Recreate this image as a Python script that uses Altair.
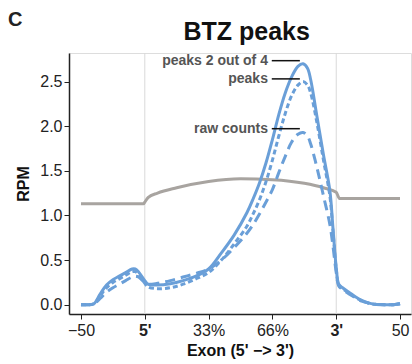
import json
import altair as alt
import pandas as pd

# ---------------- data ----------------
x_blue = [0, 0.1, 0.2, 0.3, 0.4, 0.5, 0.6, 0.7, 0.8, 0.85, 0.9, 1.0, 1.05, 1.2, 1.4, 1.6, 1.8,
          2.0, 2.2, 2.4, 2.6, 2.7, 2.8, 2.9, 3.0, 3.1, 3.2, 3.3, 3.4, 3.48, 3.55, 3.6, 3.7,
          3.8, 3.9, 3.95, 4.0, 4.04, 4.1, 4.2, 4.3, 4.4, 4.5, 4.6, 4.8, 4.9, 5.0]
peaks_2_of_4 = [0.0, 0.0, 0.01, 0.12, 0.22, 0.28, 0.32, 0.36, 0.40, 0.40, 0.37, 0.27, 0.23, 0.22,
                0.235, 0.27, 0.32, 0.40, 0.58, 0.78, 1.03, 1.19, 1.37, 1.59, 1.85, 2.13, 2.37,
                2.55, 2.67, 2.70, 2.65, 2.52, 2.10, 1.68, 1.28, 0.85, 0.42, 0.23, 0.19, 0.14,
                0.09, 0.05, 0.02, 0.005, 0.0, 0.0, 0.01]
peaks = [0.0, 0.0, 0.01, 0.10, 0.19, 0.25, 0.29, 0.33, 0.37, 0.37, 0.34, 0.24, 0.20, 0.18,
         0.19, 0.23, 0.29, 0.36, 0.50, 0.68, 0.88, 1.02, 1.18, 1.38, 1.62, 1.89, 2.14,
         2.34, 2.46, 2.50, 2.46, 2.37, 2.03, 1.62, 1.22, 0.82, 0.40, 0.22, 0.18, 0.13,
         0.08, 0.045, 0.02, 0.005, 0.0, 0.0, 0.01]
raw_counts = [0.0, 0.0, 0.01, 0.07, 0.14, 0.19, 0.23, 0.27, 0.31, 0.32, 0.31, 0.25, 0.23, 0.24,
              0.27, 0.31, 0.35, 0.40, 0.50, 0.64, 0.80, 0.90, 1.02, 1.15, 1.29, 1.48, 1.66,
              1.82, 1.91, 1.93, 1.89, 1.80, 1.53, 1.22, 0.90, 0.65, 0.36, 0.21, 0.17, 0.12,
              0.08, 0.04, 0.02, 0.005, 0.0, 0.0, 0.01]

x_gray = [0, 0.5, 0.98, 1.0, 1.05, 1.2, 1.5, 2.0, 2.5, 3.0, 3.5, 3.8, 4.0, 4.05, 4.5, 5.0]
gray_vals = [1.13, 1.13, 1.13, 1.15, 1.20, 1.25, 1.31, 1.38, 1.41, 1.40, 1.36, 1.31, 1.26,
             1.19, 1.19, 1.19]

tick_values = [0, 1, 2, 3, 4, 5]
tick_labels = ["\u221250", "5'", "33%", "66%", "3'", "50"]
bold_ticks = [1, 4]
grid_x = [1, 4]

label_names = ["peaks 2 out of 4", "peaks", "raw counts"]
label_y = [2.734, 2.53, 1.972]
label_text_x = [2.93, 2.93, 2.93]
label_line_x1 = [2.99, 2.99, 2.99]
label_line_x2 = [3.43, 3.43, 3.43]

panel_letter = ["C"]
chart_title = ["BTZ peaks"]

BLUE = "#6a9fd8"
GRAY = "#a8a4a0"
FONT = "Liberation Sans"

# ---------------- frames ----------------
df_solid = pd.DataFrame({"x": x_blue, "y": peaks_2_of_4})
df_dot = pd.DataFrame({"x": x_blue, "y": peaks})
df_dash = pd.DataFrame({"x": x_blue, "y": raw_counts})
df_gray = pd.DataFrame({"x": x_gray, "y": gray_vals})
df_grid = pd.DataFrame({"x": grid_x})
df_lab = pd.DataFrame({"name": label_names, "y": label_y, "tx": label_text_x,
                       "x1": label_line_x1, "x2": label_line_x2})
df_c = pd.DataFrame({"t": panel_letter})
df_t = pd.DataFrame({"t": chart_title})

xscale = alt.Scale(domain=[-0.188, 5.172], nice=False, zero=False)
yscale = alt.Scale(domain=[-0.104, 2.82], nice=False, zero=False)

label_expr = json.dumps(tick_labels) + "[datum.value]"
bold_expr = " || ".join(f"datum.value == {b}" for b in bold_ticks)

xaxis = alt.Axis(
    values=tick_values, labelExpr=label_expr, title="Exon (5' \u2212> 3')",
    grid=False, labelFontSize=16, titleFontSize=16, titleFontWeight="bold",
    labelFont=FONT, titleFont=FONT, labelColor="#222", titleColor="#111",
    labelFontWeight={"expr": f"({bold_expr}) ? 'bold' : 'normal'"},
    domainColor="#222", domainWidth=1.5, tickColor="#222", tickSize=5,
    labelPadding=3, titlePadding=4,
)
yaxis = alt.Axis(
    values=[0, 0.5, 1.0, 1.5, 2.0, 2.5], format=".1f", title="RPM", grid=False,
    labelFontSize=16, titleFontSize=16, titleFontWeight="bold",
    labelFont=FONT, titleFont=FONT, labelColor="#222", titleColor="#111",
    domainColor="#222", domainWidth=1.5, tickColor="#222", tickSize=5,
    labelPadding=2, titlePadding=8,
)

X = alt.X("x:Q", scale=xscale, axis=xaxis)
Y = alt.Y("y:Q", scale=yscale, axis=yaxis)

INTERP = "catmull-rom"

grid = alt.Chart(df_grid).mark_rule(color="#d9d9d9", strokeWidth=1).encode(
    x=alt.X("x:Q", scale=xscale, axis=xaxis))

gray = alt.Chart(df_gray).mark_line(color=GRAY, strokeWidth=3, interpolate="monotone").encode(X, Y)
solid = alt.Chart(df_solid).mark_line(color=BLUE, strokeWidth=3, interpolate=INTERP).encode(X, Y)
dot = alt.Chart(df_dot).mark_line(color=BLUE, strokeWidth=3, strokeDash=[5, 3],
                                  interpolate=INTERP).encode(X, Y)
dash = alt.Chart(df_dash).mark_line(color=BLUE, strokeWidth=3, strokeDash=[10, 6],
                                    interpolate=INTERP).encode(X, Y)

lab_lines = alt.Chart(df_lab).mark_rule(color="#111", strokeWidth=1.5).encode(
    x=alt.X("x1:Q", scale=xscale, axis=xaxis), x2="x2:Q",
    y=alt.Y("y:Q", scale=yscale, axis=yaxis))
lab_text = alt.Chart(df_lab).mark_text(
    align="right", baseline="middle", fontSize=14, fontWeight="bold", color="#555",
    font=FONT).encode(
    x=alt.X("tx:Q", scale=xscale, axis=xaxis),
    y=alt.Y("y:Q", scale=yscale, axis=yaxis), text="name:N")

c_label = alt.Chart(df_c).mark_text(
    align="left", baseline="alphabetic", fontSize=20, fontWeight="bold", color="#222",
    font=FONT).encode(x=alt.value(-61), y=alt.value(-27), text="t:N")

title_mark = alt.Chart(df_t).mark_text(
    align="center", baseline="alphabetic", fontSize=25, fontWeight="bold", color="#111",
    font=FONT).encode(x=alt.value(177.7), y=alt.value(-13), text="t:N")

chart = alt.layer(grid, gray, dash, dot, solid, lab_lines, lab_text, c_label,
                  title_mark).properties(
    width=342, height=261,
    padding={"left": 69, "top": 53, "right": 1, "bottom": 50},
    autosize=alt.AutoSizeParams(type="none"),
).configure_view(stroke="#666", strokeWidth=1).configure(background="white")

chart.save("out.html", embed_options={"renderer": "svg", "actions": False})
